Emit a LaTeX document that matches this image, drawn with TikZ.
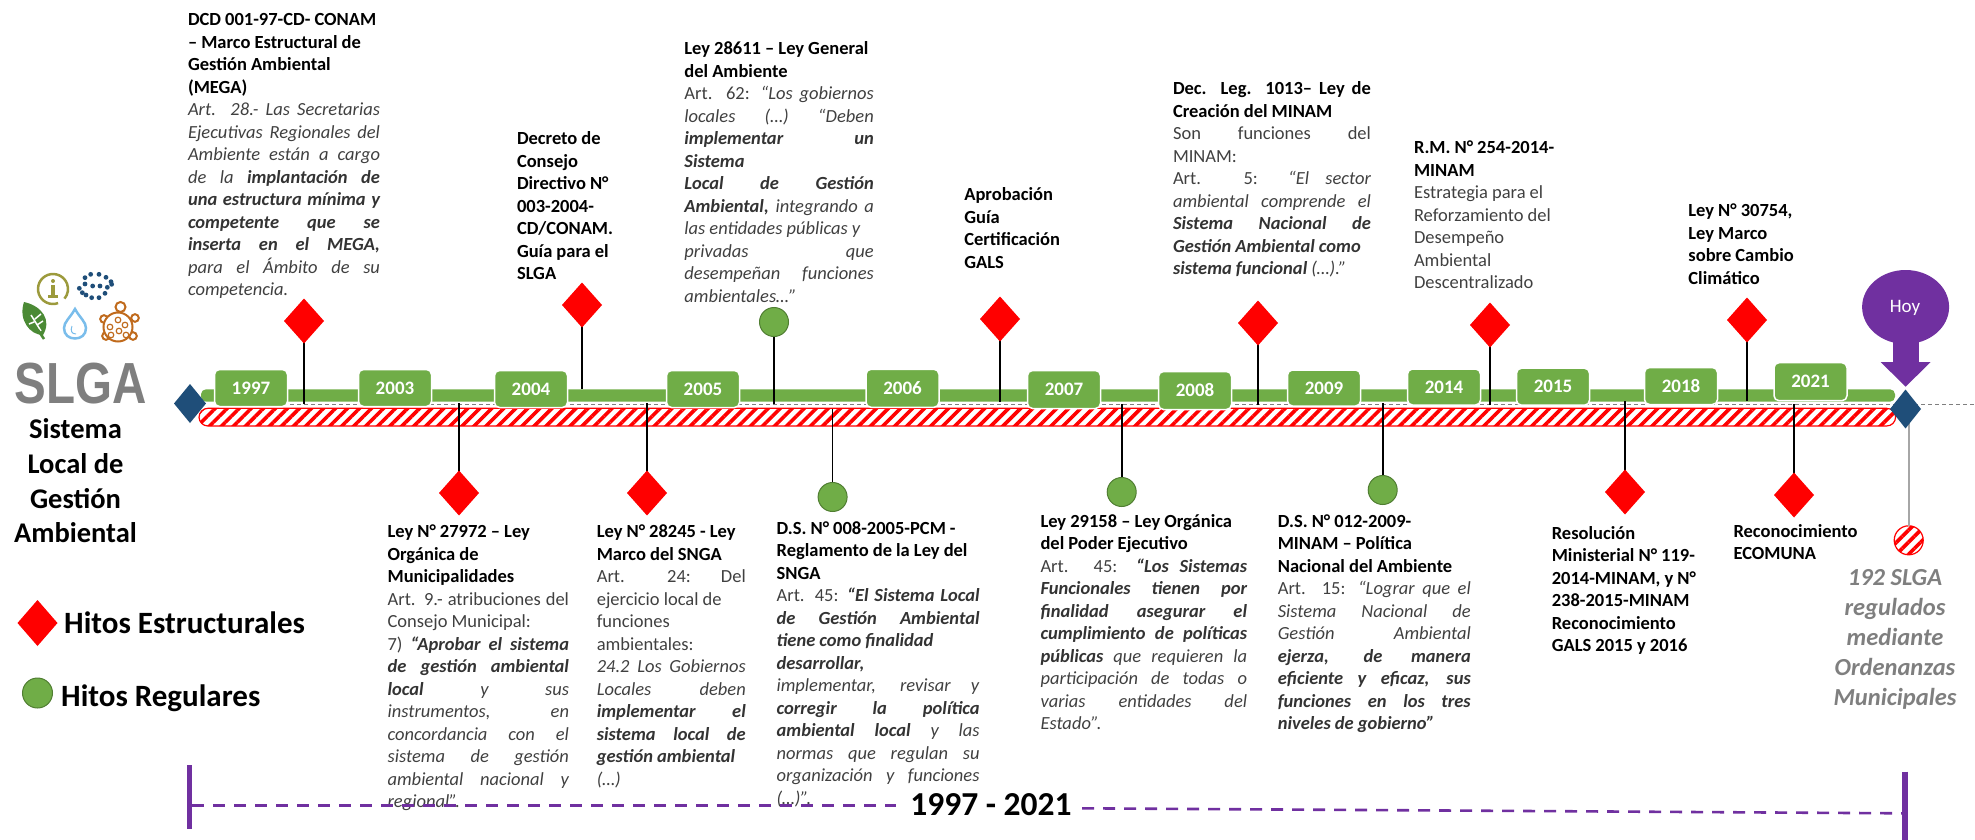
\documentclass[tikz,border=0pt]{standalone}
\usepackage{fontspec}
\usepackage{xcolor}
\setmainfont{Carlito}
\newfontfamily\logofont{Liberation Sans}
\usetikzlibrary{shapes.geometric,patterns.meta}

\definecolor{verdehito}{HTML}{70AD47}
\definecolor{verdeborde}{HTML}{507E32}
\definecolor{moradohoy}{HTML}{7030A0}
\definecolor{azulhito}{HTML}{1F4E79}
\definecolor{gristexto}{HTML}{404040}
\definecolor{grislogo}{HTML}{7F7F7F}
\definecolor{olivaicono}{HTML}{9C9A3C}
\definecolor{verdehoja}{HTML}{4B8A35}
\definecolor{azulgota}{HTML}{7ABDEB}
\definecolor{ocreicono}{HTML}{C06A1C}

\newcommand{\jl}{\linebreak}
\newcommand{\cab}[1]{{\color{black}\bfseries #1}}
\newcommand{\fuerte}[1]{{\color{black!80}\bfseries\itshape #1}}

\tikzset{
    txtbox/.style={anchor=north west,inner sep=0pt,outer sep=0pt,align=justify,text=gristexto,
        font=\fontsize{18.5}{22.5}\selectfont,
        execute at begin node={\hyphenpenalty=10000\tolerance=9999\hbadness=10000\hfuzz=8pt\spaceskip=.22em plus 1em minus .12em\strut}},
    anio/.style={draw=white,line width=1.5pt,fill=verdehito,rounded corners=5pt,text=white,
        minimum width=73pt,inner sep=0pt,font=\fontsize{19}{22}\selectfont\bfseries},
    hitoE/.style={diamond,fill=red,minimum width=40pt,minimum height=45pt,inner sep=0pt,outer sep=0pt},
    hitoR/.style={circle,fill=verdehito,draw=verdeborde,line width=1pt,minimum size=29pt,inner sep=0pt,outer sep=0pt},
    hitoA/.style={diamond,fill=azulhito,minimum width=31pt,minimum height=39pt,inner sep=0pt,outer sep=0pt},
    tallo/.style={line width=1.6pt,black},
    trama/.style={preaction={fill=white},pattern={Lines[angle=45,distance=8.5pt,line width=3.6pt]},pattern color=red,draw=red,line width=1.2pt},
    rango/.style={line width=2.6pt,moradohoy,dash pattern=on 12pt off 9pt},
    tope/.style={line width=5.5pt,moradohoy}
}

\begin{document}
\begin{tikzpicture}[x=1pt,y=-1pt]
    \useasboundingbox (0,0) rectangle (1975,840);

    % Iconos
    \draw[olivaicono,line width=2.5pt] (53,289) ++(70:15) arc[start angle=70,end angle=400,radius=15];
    \fill[olivaicono] (53,281) circle (2);
    \fill[olivaicono] (50.5,285) rectangle (55,295);
    \fill[olivaicono] (48,295) rectangle (58,297.5);
    \foreach \x/\y in {255/83,272/73,297/73,318/82,333/95,335/103,255/102,278/108,300/108,322/112,238/115,247/128,258/135,275/143,297/143,315/130}
        \fill[azulhito] ({\x/3},{250+\y/3}) circle (2.4);
    \fill[verdehoja] (24,302) .. controls (42,306) and (52,320) .. (43,335) .. controls (30,335) and (18,320) .. (24,302);
    \draw[white,line width=1.5pt] (31,315) -- (41,331) (35,319) -- (41,314) (37,325) -- (43,321) (34,322) -- (29,324);
    \draw[verdehoja,line width=2.5pt] (38,330) -- (44,339);
    \draw[azulgota,line width=2.5pt] (75,309) .. controls (70,318) and (64,322) .. (64,328) .. controls (64,335) and (69,338.5) .. (75,338.5)
        .. controls (81,338.5) and (86,335) .. (86,328) .. controls (86,322) and (80,318) .. (75,309) -- cycle;
    \draw[azulgota,line width=1pt] (72,326) .. controls (70,331) and (72,334) .. (76,334);
    \draw[ocreicono,line width=2pt] (120.5,307) circle (5);
    \foreach \x/\y in {104/319,135/318,106/336,133/336}
        \draw[ocreicono,line width=2pt,fill=white] (\x,\y) circle (3.8);
    \draw[ocreicono,line width=2pt,fill=white] (118,327) circle (14.5);
    \foreach \x/\y in {118/320,110/327,125/325,119/331,111/335,126/335}
        \draw[ocreicono,line width=1.2pt] (\x,\y) circle (2.8);

    % SLGA
    \node[text=grislogo,inner sep=0pt] (logo) at (80.5,384) {\scalebox{0.82}[1]{\logofont\fontsize{58}{60}\selectfont\bfseries SLGA}};
    \node[align=center,inner sep=0pt,font=\fontsize{28.5}{34.7}\selectfont\bfseries,anchor=north] (sistema) at (75.5,418.5) {Sistema\\Local de\\Gestión\\Ambiental};

    % Leyenda
    \node[hitoE,minimum height=46pt] (legE) at (37.5,623) {};
    \node[anchor=west,inner sep=0pt,font=\fontsize{31}{34}\selectfont\bfseries] (legEt) at (64,623) {Hitos Estructurales};
    \node[hitoR,minimum size=30pt] (legR) at (37.5,693) {};
    \node[anchor=west,inner sep=0pt,font=\fontsize{31}{34}\selectfont\bfseries] (legRt) at (61,698) {Hitos Regulares};

    % Linea de tiempo
    \coordinate (ejeA) at (290,404);
    \coordinate (ejeB) at (1975,404);
    \draw[grislogo,line width=1pt,dash pattern=on 4pt off 3pt] (ejeA) -- (ejeB);
    \fill[verdehito,rounded corners=5pt] (201,389.3) rectangle (1895,401.7);
    \draw[trama,rounded corners=9pt] (199,408.3) rectangle (1895.6,426);
    \foreach \a/\x/\y/\h in {1997/251/388/37,2003/395/388/37,2004/531/389/37,2005/703/389/37,2006/902.5/388.3/38,2007/1064/389.5/38,2008/1195/390.5/38,2009/1324/388/36,2014/1444/387/36,2015/1553/386.7/37,2018/1681/386/37,2021/1810.5/381.7/38}
        \node[anio,minimum height=\h pt] (a\a) at (\x,\y) {\a};

    % Hitos
    \foreach \n/\x/\y/\e in {dcd/304/321/404,cons/582/305/389,gals/1000/319/402,minam/1258/323/405,rm/1490/325/405,cc/1747/320/401,muni/459/493/403,snga/647/493/403,res/1625/492/401,eco/1794/495/404} {
        \coordinate (e\n) at (\x,\e);
        \draw[tallo] (e\n) -- (\x,\y);
        \node[hitoE] (h\n) at (\x,\y) {};
    }
    \foreach \n/\x/\y/\e in {gen/774/322/404,reg/832.6/497/409,pod/1121.7/492/404,pol/1382.7/490/403} {
        \coordinate (e\n) at (\x,\e);
        \draw[tallo] (e\n) -- (\x,\y);
        \node[hitoR] (h\n) at (\x,\y) {};
    }

    % Hoy
    \node[hitoA,minimum width=32pt] (iniA) at (190,403.5) {};
    \coordinate (grisA) at (1908.7,420);
    \node[circle,trama,minimum size=29pt,inner sep=0pt,outer sep=0pt] (meta) at (1908.7,540.3) {};
    \draw[line width=1.8pt,black!35] (grisA) -- (meta);
    \node[hitoA] (finA) at (1905.5,409) {};
    \fill[moradohoy] (1905.6,307) ellipse (43.5 and 37);
    \fill[moradohoy] (1893,335) rectangle (1918.6,363);
    \fill[moradohoy] (1880.6,362) -- (1930.7,362) -- (1905.6,386.7) -- cycle;
    \node[text=white,inner sep=0pt,font=\fontsize{19}{22}\selectfont] (hoy) at (1905,308) {Hoy};

    % Textos arriba
    \node[txtbox,text width=192pt] (tdcd) at (188,10) {\cab{DCD 001-97-CD- CONAM\\
        – Marco Estructural de\\
        Gestión Ambiental\\
        (MEGA)}\\
        \textit{Art. 28.- Las Secretarias\jl
        Ejecutivas Regionales del\jl
        Ambiente están a cargo\jl
        de la} \fuerte{implantación de\jl
        una estructura mínima y\jl
        competente que se\jl
        inserta en el MEGA,}\jl
        \textit{para el Ámbito de su\jl
        competencia.}};
    \node[txtbox,text width=130pt] (tcons) at (517,129) {\cab{Decreto de\\
        Consejo\\
        Directivo N°\\
        003-2004-\\
        CD/CONAM.\\
        Guía para el\\
        SLGA}};
    \node[txtbox,text width=189.4pt] (tgen) at (684.4,39) {\cab{Ley 28611 – Ley General\\
        del Ambiente}\\
        Art. 62: \textit{“Los gobiernos\jl
        locales (…) “Deben}\jl
        \fuerte{implementar un\jl
        Sistema\\
        Local de Gestión\jl
        Ambiental,} \textit{integrando a\jl
        las entidades públicas y\\
        privadas que\jl
        desempeñan funciones\jl
        ambientales…”}};
    \node[txtbox,text width=120pt] (tgals) at (964.3,185) {\cab{Aprobación\\
        Guía\\
        Certificación\\
        GALS}};
    \node[txtbox,text width=198pt] (tminam) at (1173,79) {\cab{Dec. Leg. 1013– Ley de\jl
        Creación del MINAM}\\
        Son funciones del\jl
        MINAM:\\
        Art. 5: \textit{“El sector\jl
        ambiental comprende el}\jl
        \fuerte{Sistema Nacional de\jl
        Gestión Ambiental como\\
        sistema funcional} \textit{(…).”}};
    \node[txtbox,text width=170pt] (trm) at (1414,138) {\cab{R.M. N° 254-2014-\\
        MINAM}\\
        Estrategia para el\\
        Reforzamiento del\\
        Desempeño\\
        Ambiental\\
        Descentralizado};
    \node[txtbox,text width=130pt] (tcc) at (1688.4,201) {\cab{Ley N° 30754,\\
        Ley Marco\\
        sobre Cambio\\
        Climático}};

    % Textos abajo
    \node[txtbox,text width=181.4pt] (tmuni) at (387.6,522) {\cab{Ley N° 27972 – Ley\\
        Orgánica de\\
        Municipalidades}\\
        Art. 9.- atribuciones del\jl
        Consejo Municipal:\\
        7) \fuerte{“Aprobar el sistema\jl
        de gestión ambiental\jl
        local} \textit{y sus\jl
        instrumentos, en\jl
        concordancia con el\jl
        sistema de gestión\jl
        ambiental nacional y\jl
        regional”.}};
    \node[txtbox,text width=149pt] (tsnga) at (596.8,522) {\cab{Ley N° 28245 - Ley\\
        Marco del SNGA}\\
        Art. 24: Del\jl
        ejercicio local de\\
        funciones\\
        ambientales:\\
        \textit{24.2 Los Gobiernos\jl
        Locales deben}\jl
        \fuerte{implementar el\jl
        sistema local de\jl
        gestión ambiental}\\
        \textit{(…)}};
    \node[txtbox,text width=203pt] (treg) at (776.6,518.3) {\cab{D.S. N° 008-2005-PCM -\\
        Reglamento de la Ley del\\
        SNGA}\\
        Art. 45: \fuerte{“El Sistema Local\jl
        de Gestión Ambiental\jl
        tiene como finalidad\\
        desarrollar,}\\
        \textit{implementar, revisar y}\jl
        \fuerte{corregir la política\jl
        ambiental local} \textit{y las\jl
        normas que regulan su\jl
        organización y funciones\jl
        (…)”.}};
    \node[txtbox,text width=206.6pt] (tpod) at (1040.5,511.7) {\cab{Ley 29158 – Ley Orgánica\\
        del Poder Ejecutivo}\\
        Art. 45: \fuerte{“Los Sistemas\jl
        Funcionales tienen por\jl
        finalidad asegurar el\jl
        cumplimiento de políticas\jl
        públicas} \textit{que requieren la\jl
        participación de todas o\jl
        varias entidades del\jl
        Estado”.}};
    \node[txtbox,text width=193pt] (tpol) at (1277.8,511.7) {\cab{D.S. N° 012-2009-\\
        MINAM – Política\\
        Nacional del Ambiente}\\
        Art. 15: \textit{“Lograr que el\jl
        Sistema Nacional de\jl
        Gestión Ambiental}\jl
        \fuerte{ejerza, de manera\jl
        eficiente y eficaz, sus\jl
        funciones en los tres\jl
        niveles de gobierno”}};
    \node[txtbox,text width=170pt] (tres) at (1551.8,523.3) {\cab{Resolución\\
        Ministerial N° 119-\\
        2014-MINAM, y N°\\
        238-2015-MINAM\\
        Reconocimiento\\
        GALS 2015 y 2016}};
    \node[txtbox,text width=140pt] (teco) at (1733.5,521.7) {\cab{Reconocimiento\\
        ECOMUNA}};
    \node[align=center,inner sep=0pt,text=grislogo,font=\fontsize{24.5}{30}\selectfont\bfseries\itshape,anchor=north] (tmeta) at (1895,569) {192 SLGA\\regulados\\mediante\\Ordenanzas\\Municipales};

    % Rango
    \coordinate (rgA) at (189.5,765);
    \coordinate (rgB) at (189.5,829);
    \coordinate (rgC) at (1905,771.7);
    \coordinate (rgD) at (1905,840);
    \draw[tope] (rgA) -- (rgB);
    \draw[tope] (rgC) -- (rgD);
    \node[inner sep=0pt,font=\fontsize{33.5}{36}\selectfont\bfseries] (periodo) at (991,805) {1997 - 2021};
    \coordinate (rgE) at (192,805.7);
    \coordinate (rgF) at (895.7,805.7);
    \coordinate (rgG) at (1082,808.3);
    \coordinate (rgH) at (1902,813.3);
    \draw[rango] (rgE) -- (rgF);
    \draw[rango] (rgG) -- (rgH);
\end{tikzpicture}
\end{document}
